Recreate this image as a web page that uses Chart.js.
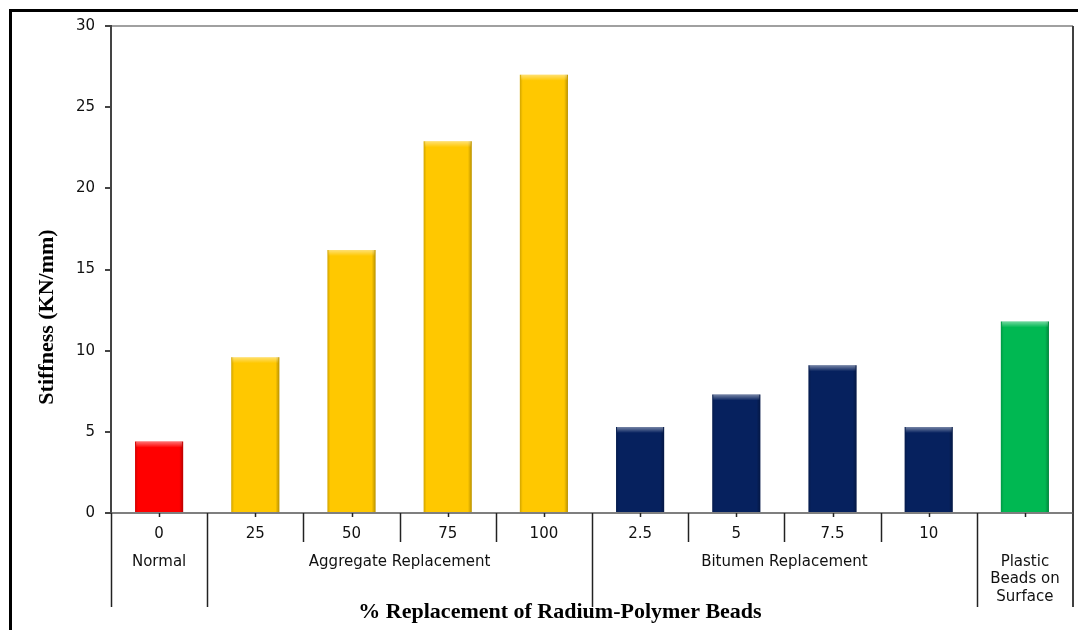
<!DOCTYPE html>
<html>
<head>
<meta charset="utf-8">
<script src="https://cdn.jsdelivr.net/npm/chart.js@4.4.1/dist/chart.umd.min.js"></script>
<style>
  html, body { margin: 0; padding: 0; background: #ffffff; }
  #wrap { width: 1078px; height: 630px; position: relative; }
</style>
</head>
<body>
<div id="wrap"><canvas id="c" width="1078" height="630"></canvas></div>
<script>
// ---- data ----
const categories = ['0', '25', '50', '75', '100', '2.5', '5', '7.5', '10', ''];
const stiffness = [4.4, 9.6, 16.2, 22.9, 27.0, 5.3, 7.3, 9.1, 5.3, 11.8];
const barColors = ['#FF0000', '#FFC800', '#FFC800', '#FFC800', '#FFC800',
                   '#06215E', '#06215E', '#06215E', '#06215E', '#00B852'];
const groupLabels = [['Normal'], ['Aggregate Replacement'], ['Bitumen Replacement'], ['Plastic', 'Beads on', 'Surface']];
const groupStart = [0, 1, 5, 9];
const groupEnd = [0, 4, 8, 9];
const yTicks = [0, 5, 10, 15, 20, 25, 30];
const yTitle = 'Stiffness (KN/mm)';
const xTitle = '% Replacement of Radium-Polymer Beads';

const tickFont = '15px "DejaVu Sans", Verdana, sans-serif';

const overlay = {
  id: 'overlay',
  afterDatasetsDraw(chart) {
    const ctx = chart.ctx;
    const meta = chart.getDatasetMeta(0);
    ctx.save();
    meta.data.forEach((bar) => {
      const left = bar.x - bar.width / 2, right = bar.x + bar.width / 2;
      const top = bar.y, bottom = bar.base;
      let g = ctx.createLinearGradient(left, 0, right, 0);
      g.addColorStop(0, 'rgba(0,0,0,0.18)');
      g.addColorStop(0.06, 'rgba(0,0,0,0.0)');
      g.addColorStop(0.92, 'rgba(0,0,0,0.0)');
      g.addColorStop(1, 'rgba(0,0,0,0.28)');
      ctx.fillStyle = g;
      ctx.fillRect(left, top, right - left, bottom - top);
      let g2 = ctx.createLinearGradient(0, top, 0, top + 6);
      g2.addColorStop(0, 'rgba(255,255,255,0.45)');
      g2.addColorStop(1, 'rgba(255,255,255,0)');
      ctx.fillStyle = g2;
      ctx.fillRect(left + 1, top, right - left - 2, 6);
    });
    ctx.restore();
  },
  afterDraw(chart) {
    const ctx = chart.ctx;
    const xs = chart.scales.x;
    const ca = chart.chartArea;
    const base = ca.bottom;
    ctx.save();
    // outer frame
    ctx.strokeStyle = '#000';
    ctx.lineWidth = 3;
    ctx.beginPath();
    ctx.moveTo(10.5, 632);
    ctx.lineTo(10.5, 10.5);
    ctx.lineTo(1080, 10.5);
    ctx.stroke();

    // plot right border
    ctx.strokeStyle = '#404040';
    ctx.lineWidth = 2;
    ctx.beginPath();
    ctx.moveTo(ca.right, ca.top);
    ctx.lineTo(ca.right, 607);
    ctx.stroke();

    // x axis line
    ctx.strokeStyle = '#555';
    ctx.lineWidth = 1.5;
    ctx.beginPath();
    ctx.moveTo(ca.left, base);
    ctx.lineTo(ca.right, base);
    ctx.stroke();

    const n = categories.length;
    const step = xs.getPixelForValue(1) - xs.getPixelForValue(0);
    ctx.strokeStyle = '#222';
    ctx.lineWidth = 1.5;
    for (let i = 0; i < n; i++) {
      const x = Math.round(xs.getPixelForValue(i)) + 0.5;
      ctx.beginPath();
      ctx.moveTo(x, base);
      ctx.lineTo(x, base + 4);
      ctx.stroke();
    }
    const groupBounds = new Set(groupStart);
    for (let i = 0; i < n; i++) {
      const x = Math.round(xs.getPixelForValue(i) - step / 2) + 0.5;
      const isGroup = groupBounds.has(i);
      ctx.beginPath();
      ctx.moveTo(x, base);
      ctx.lineTo(x, isGroup ? 607 : 542);
      ctx.stroke();
    }
    ctx.fillStyle = '#111';
    ctx.font = tickFont;
    ctx.textAlign = 'center';
    ctx.textBaseline = 'middle';
    groupLabels.forEach((lines, gi) => {
      const cx = (xs.getPixelForValue(groupStart[gi]) + xs.getPixelForValue(groupEnd[gi])) / 2;
      lines.forEach((t, li) => ctx.fillText(t, cx, 562 + li * 17.5));
    });

    ctx.font = 'bold 22px "Liberation Serif", "Times New Roman", serif';
    ctx.fillStyle = '#000';
    ctx.fillText(xTitle, 560, 612);

    ctx.translate(47, 317);
    ctx.rotate(-Math.PI / 2);
    ctx.font = 'bold 22px "Liberation Serif", "Times New Roman", serif';
    ctx.fillText(yTitle, 0, 0);
    ctx.restore();
  }
};

new Chart(document.getElementById('c'), {
  type: 'bar',
  data: {
    labels: categories,
    datasets: [{
      data: stiffness,
      backgroundColor: barColors,
      borderWidth: 0,
      barPercentage: 0.5,
      categoryPercentage: 1.0
    }]
  },
  options: {
    responsive: false,
    animation: false,
    devicePixelRatio: 1,
    layout: { padding: { top: 26, right: 5, left: 0, bottom: 0 } },
    plugins: { legend: { display: false }, tooltip: { enabled: false } },
    scales: {
      x: {
        grid: { display: false },
        border: { display: false },
        ticks: { color: '#111', font: { family: '"DejaVu Sans", Verdana, sans-serif', size: 15 }, padding: 4, maxRotation: 0, autoSkip: false },
        afterFit(scale) { scale.height = 117; }
      },
      y: {
        min: 0, max: 30,
        afterBuildTicks(scale) { scale.ticks = yTicks.map(v => ({ value: v })); },
        ticks: { color: '#111', font: { family: '"DejaVu Sans", Verdana, sans-serif', size: 15 }, padding: 10 },
        grid: {
          drawOnChartArea: true,
          color: (c) => (c.tick && c.tick.value === 30) ? '#a0a0a0' : 'rgba(0,0,0,0)',
          lineWidth: 2,
          tickColor: '#444',
          tickLength: 6
        },
        border: { display: true, color: '#444', width: 2 },
        afterFit(scale) { scale.width = 111; }
      }
    }
  },
  plugins: [overlay]
});
</script>
</body>
</html>
